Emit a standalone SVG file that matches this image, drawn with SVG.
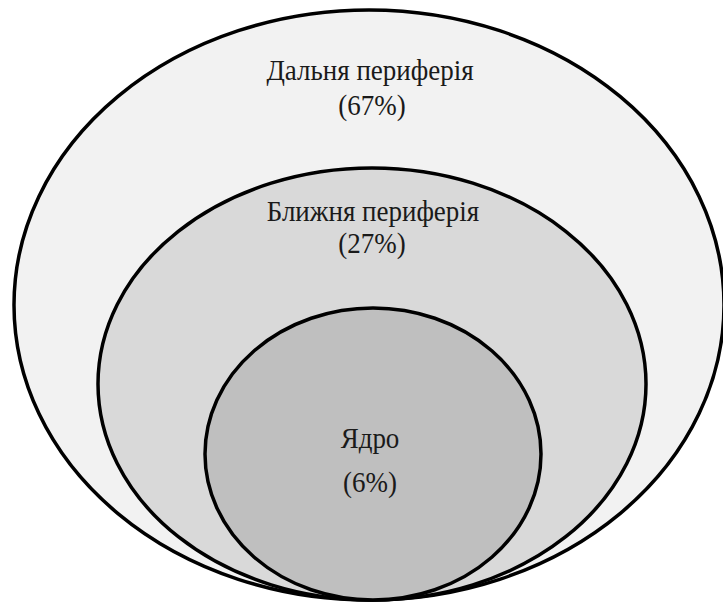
<svg xmlns="http://www.w3.org/2000/svg" width="723" height="604" viewBox="0 0 723 604">
<style>
.ring{stroke:#000;stroke-width:3.5}
.lbl{font-family:"Liberation Serif","Times New Roman",serif;font-size:30px;fill:#1a1a1a;text-anchor:middle}
</style>
<rect width="723" height="604" fill="#fff"/>
<g id="far">
<ellipse class="ring" cx="369" cy="305" rx="355" ry="295" fill="#f2f2f2"/>
<text class="lbl" transform="translate(370 80) scale(0.9 1)">Дальня периферія</text>
<text class="lbl" transform="translate(372 115) scale(0.9 1)">(67%)</text>
</g>
<g id="near">
<ellipse class="ring" cx="372" cy="384" rx="274" ry="216" fill="#d9d9d9"/>
<text class="lbl" transform="translate(373 221) scale(0.9 1)">Ближня периферія</text>
<text class="lbl" transform="translate(372 253) scale(0.9 1)">(27%)</text>
</g>
<g id="core">
<ellipse class="ring" cx="373" cy="454" rx="168" ry="146" fill="#bfbfbf"/>
<text class="lbl" transform="translate(370 448) scale(0.9 1)">Ядро</text>
<text class="lbl" transform="translate(370 492) scale(0.9 1)">(6%)</text>
</g>
<g id="connectors"/>
</svg>
